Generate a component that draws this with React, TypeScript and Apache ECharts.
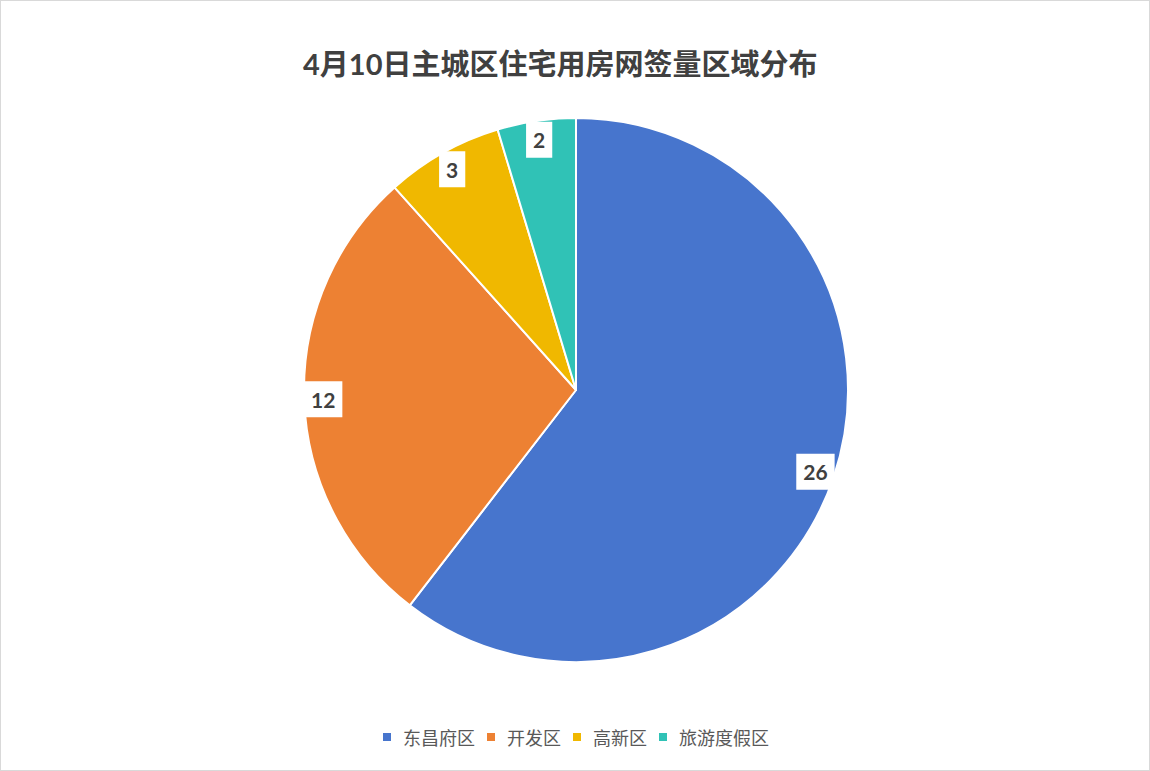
import React, { useRef, useEffect } from 'react';
import * as echarts from 'echarts';

const regions = ['东昌府区', '开发区', '高新区', '旅游度假区'];
const signings = [26, 12, 3, 2];
const colors = ['#4775cd', '#ed8133', '#f0b800', '#30c2b6'];
const titleText = '4月10日主城区住宅用房网签量区域分布';

const App: React.FC = () => {
    const chartRef = useRef<HTMLDivElement>(null);

    useEffect(() => {
        document.body.style.margin = '0';
        if (!chartRef.current) return;
        const chart = echarts.init(chartRef.current, null, { renderer: 'svg' });

        const data = regions.map((name, i) => ({
            name,
            value: signings[i],
            itemStyle: { color: colors[i] }
        }));

        const option: echarts.EChartsOption = {
            animation: false,
            backgroundColor: '#fff',
            color: colors,
            title: {
                text: titleText,
                left: 297,
                top: 43,
                textStyle: {
                    fontFamily: 'Lato, "Noto Sans CJK SC", sans-serif',
                    fontSize: 29,
                    fontWeight: 'bold',
                    color: '#404040'
                }
            },
            legend: {
                bottom: 19,
                left: 'center',
                icon: 'rect',
                itemWidth: 10,
                itemHeight: 10,
                itemGap: 10,
                data: regions,
                textStyle: {
                    fontFamily: '"Noto Sans CJK SC", sans-serif',
                    fontSize: 18,
                    color: '#595959',
                    padding: [0, 0, 0, 6]
                }
            },
            series: [
                {
                    type: 'pie',
                    center: [575, 389],
                    radius: [0, 272],
                    startAngle: 90,
                    clockwise: true,
                    silent: true,
                    label: { show: false },
                    labelLine: { show: false },
                    itemStyle: { borderColor: '#fff', borderWidth: 2 },
                    data
                },
                {
                    // transparent ring that only carries the value labels near the rim
                    type: 'pie',
                    center: [575, 389],
                    radius: [238, 262],
                    startAngle: 90,
                    clockwise: true,
                    silent: true,
                    legendHoverLink: false,
                    itemStyle: { color: 'transparent', borderWidth: 0 },
                    label: {
                        show: true,
                        position: 'inside',
                        formatter: '{c}',
                        backgroundColor: '#fff',
                        padding: [8, 7, 7, 7],
                        fontFamily: 'Lato, sans-serif',
                        fontSize: 21,
                        fontWeight: 'bold',
                        color: '#404040'
                    },
                    labelLine: { show: false },
                    data: regions.map((name, i) => ({
                        name: name + ' ',
                        value: signings[i],
                        itemStyle: { color: 'transparent' }
                    }))
                }
            ]
        };

        chart.setOption(option);

        return () => {
            chart.dispose();
        };
    }, []);

    return (
        <div
            ref={chartRef}
            style={{
                width: 1150,
                height: 771,
                boxSizing: 'border-box',
                border: '1px solid #d9d9d9'
            }}
        />
    );
};

export default App;
